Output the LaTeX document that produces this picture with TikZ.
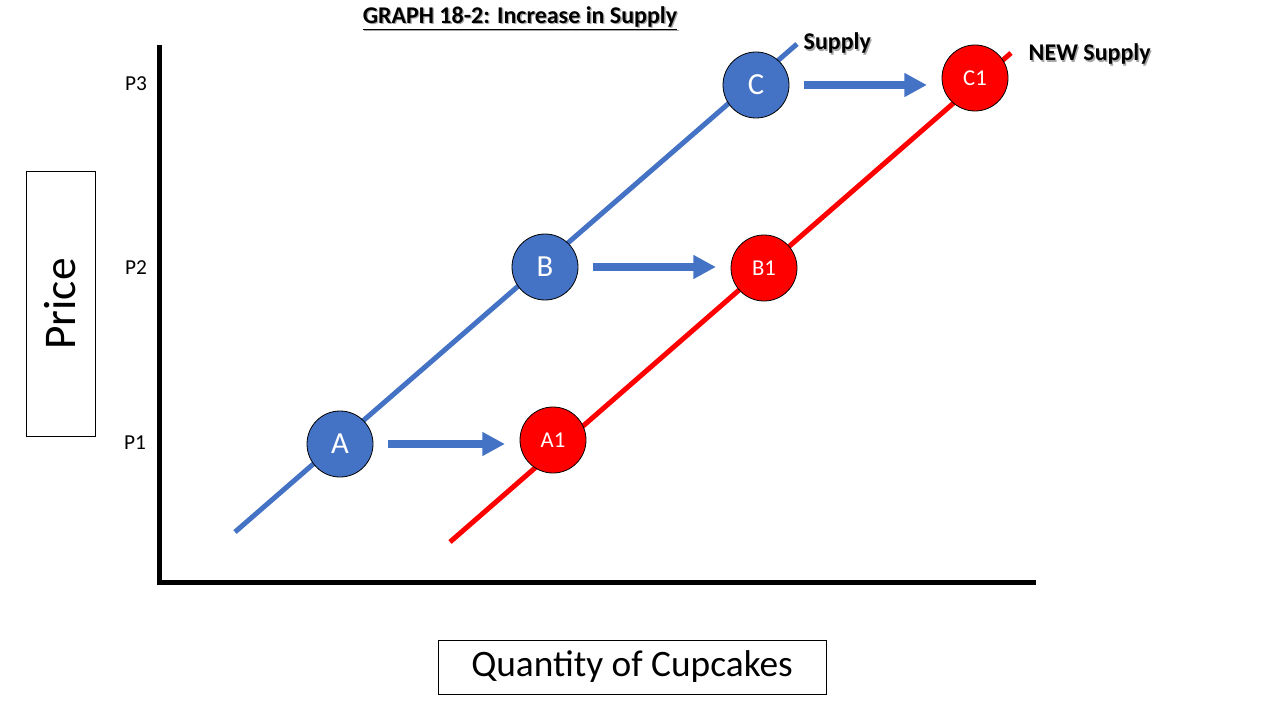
\documentclass[tikz,border=0pt]{standalone}
\usepackage{fontspec}
\setmainfont{Carlito}
\usepackage{xcolor}
\usetikzlibrary{arrows.meta, positioning, calc, fit}
\definecolor{supblue}{HTML}{4472C4}
\definecolor{supred}{HTML}{FF0000}
\newcommand{\shadowtxt}[1]{\makebox[0pt][l]{\hspace{1pt}\raisebox{-1pt}{\textcolor{black!35}{#1}}}#1}

\begin{document}
\begin{tikzpicture}[x=0.75pt, y=-0.75pt,
  axis/.style={line width=3.75pt, line join=miter},
  curve/.style={line width=3.75pt},
  pt/.style={circle, draw=black, line width=0.6pt, minimum size=49.5pt, inner sep=0pt, text=white},
  oldpt/.style={pt, fill=supblue, font=\fontsize{23}{27}\selectfont},
  newpt/.style={pt, fill=supred, font=\fontsize{17}{20}\selectfont},
  shiftarrow/.style={supblue, line width=6pt, -{Triangle[length=17pt, width=17pt]}, shorten <=11pt, shorten >=11pt},
  lbl/.style={font=\fontsize{16}{19}\selectfont},
  curvelbl/.style={anchor=west, font=\bfseries\fontsize{18}{22}\selectfont},
  boxlbl/.style={draw=black, line width=0.75pt, inner sep=0pt}]
  \useasboundingbox (0,0) rectangle (1280,720);

  % title
  \node[font=\bfseries\fontsize{18}{22}\selectfont] (title) at (520,19) {\shadowtxt{\underline{GRAPH 18-2: Increase in Supply}}};

  % axes
  \coordinate (ytop) at (159,45);
  \coordinate (origin) at (159,582);
  \coordinate (xend) at (1036,582);
  \draw[axis] (ytop) -- (origin) -- (xend);

  % axis labels
  \node[boxlbl, rotate=90, minimum width=198pt, minimum height=51.75pt, font=\fontsize{34}{40}\selectfont] (price) at (60.5,304) {Price};
  \node[boxlbl, minimum width=291pt, minimum height=40.5pt, font=\fontsize{28}{34}\selectfont] (qty) at (632,667) {Quantity of Cupcakes};
  \node[lbl] (p3) at (136,84) {P3};
  \node[lbl] (p2) at (136,268) {P2};
  \node[lbl] (p1) at (135,443) {P1};

  % supply curves
  \coordinate (s0) at (235,532);
  \coordinate (s1) at (797,44);
  \coordinate (n0) at (450,542);
  \coordinate (n1) at (1011,53);
  \draw[curve, supblue] (s0) -- (s1);
  \draw[curve, supred] (n0) -- (n1);
  \node[curvelbl] (supply) at (799,44) {\shadowtxt{Supply}};
  \node[curvelbl] (newsupply) at (1024,55) {\shadowtxt{NEW Supply}};

  % points
  \node[oldpt] (A) at (340,444) {A};
  \node[oldpt] (B) at (545,267) {B};
  \node[oldpt] (C) at (756,85) {C};
  \node[newpt] (A1) at (553,440) {A1};
  \node[newpt] (B1) at (764,268) {B1};
  \node[newpt] (C1) at (975,78) {C1};

  % shift
  \draw[shiftarrow] (A.east) -- (A.east -| A1.west);
  \draw[shiftarrow] (B.east) -- (B.east -| B1.west);
  \draw[shiftarrow] (C.east) -- (C.east -| C1.west);
\end{tikzpicture}
\end{document}
